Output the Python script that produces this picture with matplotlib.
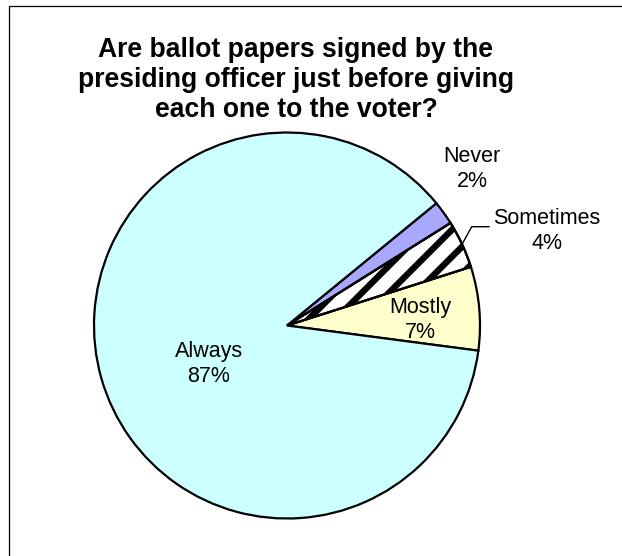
import numpy as np
import matplotlib
matplotlib.use("Agg")
import matplotlib.pyplot as plt
from matplotlib.patches import Rectangle, Wedge
from matplotlib.lines import Line2D

plt.rcParams['font.family'] = ['Liberation Sans', 'DejaVu Sans']

# Survey answers, in drawing order (counter-clockwise from the start angle)
categories = ["Mostly", "Sometimes", "Never", "Always"]
shares = [7, 4, 2, 87]
colors = ["#FFFFCC", "#FFFFFF", "#A8A8FF", "#CCFFFF"]
title = "Are ballot papers signed by the\npresiding officer just before giving\neach one to the voter?"

W, H = 622, 556
fig = plt.figure(figsize=(W / 100, H / 100), dpi=100)
ax = fig.add_axes([0, 0, 1, 1])


def px(x, y):
    """Convert top-left pixel coordinates to axes data coordinates."""
    return x, H - y


cx, cy = px(287, 325.5)
R = 193
wedges, _ = ax.pie(shares, colors=colors, startangle=-7.5, counterclock=True,
                   center=(cx, cy), radius=R,
                   wedgeprops=dict(edgecolor='black', linewidth=1.6))

ax.set_xlim(0, W)
ax.set_ylim(0, H)
ax.set_aspect('equal')
ax.axis('off')

# outer frame (only the top and left edges fall inside the canvas)
ax.add_patch(Rectangle((8.5, -200), 900, (H - 6) + 200,
                       fill=False, edgecolor='black', linewidth=0.9))

# diagonal stripe fill for the "Sometimes" slice
stripe_w = wedges[1]
period = 27.0
c0 = 681.7
for k in range(-12, 12):
    c = c0 + k * period
    # pixel-space line: y_pix = c - x
    xs = np.array([200.0, 560.0])
    ys = c - xs
    ln = Line2D(xs, H - ys, color='black', linewidth=4.6, solid_capstyle='butt')
    ax.add_line(ln)
    ln.set_clip_path(stripe_w)
# redraw the slice outline on top of the stripes
ax.add_patch(Wedge((cx, cy), R, stripe_w.theta1, stripe_w.theta2,
                   fill=False, edgecolor='black', linewidth=1.6))

fs = 15.5
ls = 1.22
# labels
ax.text(*px(209, 364), f"{categories[3]}\n{shares[3]}%", ha='center', va='center',
        fontsize=fs, linespacing=ls)
ax.text(*px(420, 320), f"{categories[0]}\n{shares[0]}%", ha='center', va='center',
        fontsize=fs, linespacing=ls)
ax.text(*px(472, 169), f"{categories[2]}\n{shares[2]}%", ha='center', va='center',
        fontsize=fs, linespacing=ls)
ax.text(*px(547, 231), f"{categories[1]}\n{shares[1]}%", ha='center', va='center',
        fontsize=fs, linespacing=ls)

# leader line for "Sometimes"
mid = np.deg2rad((stripe_w.theta1 + stripe_w.theta2) / 2)
arc_pt = (cx + R * np.cos(mid), cy + R * np.sin(mid))
elbow = px(471.7, 226.7)
end = px(489, 226.7)
ax.plot([arc_pt[0], elbow[0], end[0]], [arc_pt[1], elbow[1], end[1]],
        color='black', linewidth=1.0)

ax.text(*px(296, 80), title, ha='center', va='center', fontsize=19.1,
        fontweight='bold', linespacing=1.2)

fig.savefig("out.png", dpi=100)
